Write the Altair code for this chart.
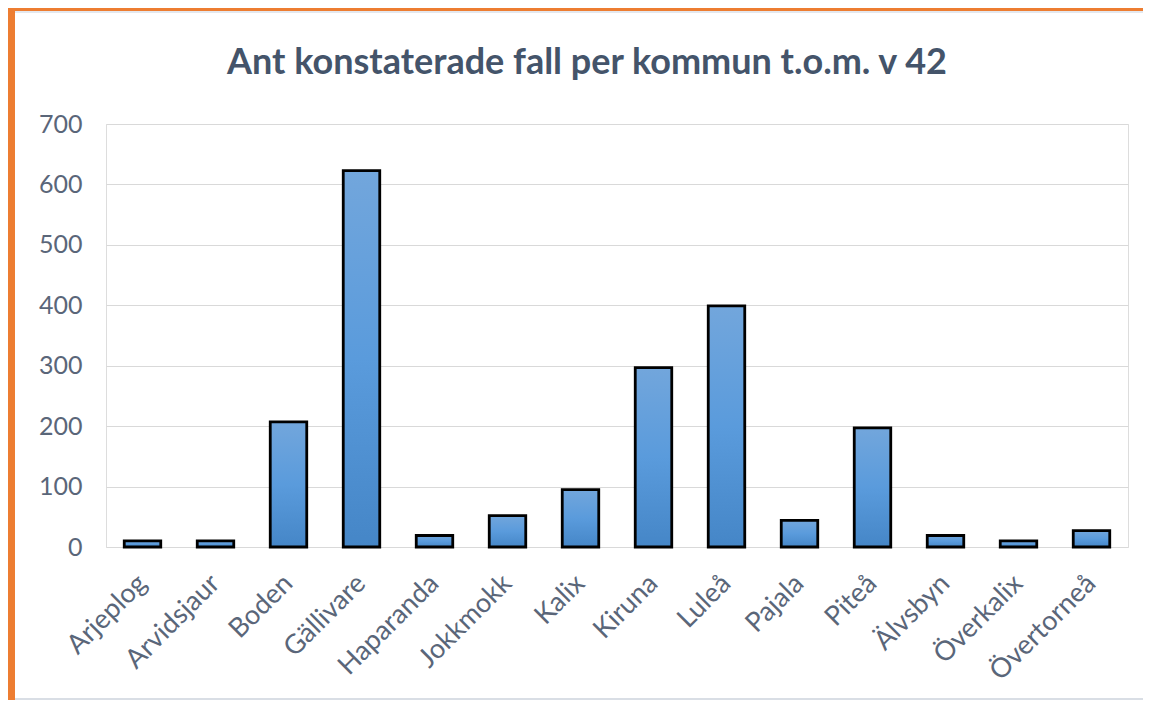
import altair as alt
import pandas as pd

kommun = ["Arjeplog", "Arvidsjaur", "Boden", "Gällivare", "Haparanda", "Jokkmokk", "Kalix",
          "Kiruna", "Luleå", "Pajala", "Piteå", "Älvsbyn", "Överkalix", "Övertorneå"]
fall = [10, 10, 207, 623, 19, 52, 95, 297, 399, 44, 197, 19, 10, 27]
y_ticks = [0, 100, 200, 300, 400, 500, 600, 700]
title_text = ["Ant konstaterade fall per kommun t.o.m. v 42"]

df = pd.DataFrame({"kommun": kommun, "fall": fall})
title_df = pd.DataFrame({"title": title_text})

FONT = "Lato"
LABEL_COLOR = "#5A6679"
TITLE_COLOR = "#44546A"

PLOT_W, PLOT_H = 1022, 423
PAD_L, PAD_T, PAD_R, PAD_B = 98, 116, 15, 153

bars = alt.Chart(df).mark_bar(
    stroke="#000000",
    strokeWidth=2.8,
    color=alt.Gradient(
        gradient="linear",
        x1=0, x2=0, y1=0, y2=1,
        stops=[alt.GradientStop(color="#72A6DC", offset=0),
               alt.GradientStop(color="#5A9BDC", offset=0.5),
               alt.GradientStop(color="#4586C7", offset=1)],
    ),
).encode(
    x=alt.X("kommun:N", sort=kommun,
            scale=alt.Scale(paddingInner=0.5, paddingOuter=0.25),
            axis=alt.Axis(title=None, labelAngle=-45, labelAlign="right", labelBaseline="middle",
                          labelFont=FONT, labelFontSize=27, labelColor=LABEL_COLOR,
                          labelPadding=32, ticks=False, domain=False, grid=False)),
    y=alt.Y("fall:Q", scale=alt.Scale(domain=[0, 700], nice=False),
            axis=alt.Axis(title=None, values=y_ticks, labelFont=FONT, labelFontSize=25,
                          labelColor=LABEL_COLOR, labelPadding=24, ticks=False, domain=False,
                          grid=True, gridColor="#D9D9D9", gridWidth=1.2)),
)

title = alt.Chart(title_df).mark_text(
    font=FONT, fontSize=36, fontWeight="bold", color=TITLE_COLOR,
    align="center", baseline="alphabetic",
).encode(text="title:N", x=alt.value(481), y=alt.value(-50))

# chart frame decorations (orange outer border, light inner border)
frame_left = alt.Chart(title_df).mark_rule(color="#ED7D31", strokeWidth=7).encode(
    x=alt.value(-PAD_L + 3.5), y=alt.value(-PAD_T), y2=alt.value(PLOT_H + PAD_B))
frame_top = alt.Chart(title_df).mark_rule(color="#ED7D31", strokeWidth=6).encode(
    x=alt.value(-PAD_L), x2=alt.value(PLOT_W + PAD_R), y=alt.value(-PAD_T))
frame_inner_top = alt.Chart(title_df).mark_rule(color="#E4E8EE", strokeWidth=2).encode(
    x=alt.value(-PAD_L + 7), x2=alt.value(PLOT_W + PAD_R), y=alt.value(-PAD_T + 4))
frame_bottom = alt.Chart(title_df).mark_rule(color="#D9DEE5", strokeWidth=2).encode(
    x=alt.value(-PAD_L + 7), x2=alt.value(PLOT_W + PAD_R), y=alt.value(PLOT_H + PAD_B - 1))

chart = alt.layer(bars, title, frame_left, frame_top, frame_inner_top, frame_bottom).properties(
    width=PLOT_W,
    height=PLOT_H,
    autosize=alt.AutoSizeParams(type="none"),
    padding={"left": PAD_L, "top": PAD_T, "right": PAD_R, "bottom": PAD_B},
).configure_view(stroke=None).configure(background="white")

chart.save("out.html", embed_options={"renderer": "svg", "actions": False})
